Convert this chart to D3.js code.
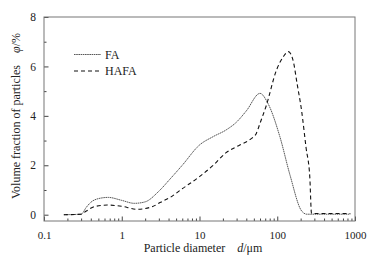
<!DOCTYPE html>
<html>
<head>
<meta charset="utf-8">
<script src="https://cdn.jsdelivr.net/npm/d3@7"></script>
<style>
  body { margin: 0; background: #fff; }
  text { font-family: "Liberation Serif", "Times New Roman", serif; fill: #222; }
</style>
</head>
<body>
<svg width="374" height="266"></svg>
<script>
// particle size distribution
var faDiameter = [0.18, 0.3, 0.35, 0.4, 0.5, 0.67, 1, 1.45, 2, 3, 4.2, 6, 10, 15, 22, 30, 40, 60, 76, 108, 146, 206, 240, 870];
var faVolume   = [0, 0.02, 0.3, 0.5, 0.65, 0.70, 0.58, 0.46, 0.52, 0.95, 1.45, 2.0, 2.82, 3.16, 3.43, 3.75, 4.2, 4.91, 4.5, 3.16, 1.6, 0.15, 0.02, 0.02];

var hafaDiameter = [0.18, 0.3, 0.35, 0.45, 0.65, 1, 1.56, 2.5, 3.1, 4.2, 6, 10, 15, 22, 33, 45, 54, 60, 72, 98, 120, 139, 161, 180, 205, 235, 262, 276, 870];
var hafaVolume   = [0, 0.02, 0.15, 0.33, 0.39, 0.34, 0.22, 0.33, 0.49, 0.70, 1.05, 1.54, 2.0, 2.51, 2.82, 3.05, 3.3, 3.7, 4.4, 5.86, 6.4, 6.6, 6.2, 5.3, 4.24, 2.7, 1.54, 0.05, 0.05];

var xMajor = [0.1, 1, 10, 100, 1000];
var xLabels = ["0.1", "1", "10", "100", "1000"];
var yMajor = [0, 2, 4, 6, 8];
var yMinor = [1, 3, 5, 7];

var svg = d3.select("svg"),
    margin = {top: 17, right: 19, bottom: 45, left: 44},
    width = +svg.attr("width") - margin.left - margin.right,
    height = +svg.attr("height") - margin.top - margin.bottom,
    g = svg.append("g").attr("transform", "translate(" + margin.left + "," + margin.top + ")");

var x = d3.scaleLog().domain([0.1, 1000]).range([0, width]);
var y = d3.scaleLinear().domain([-0.255, 8]).range([height, 0]);

// minor log ticks 2..9 in every decade
var xMinor = [];
[0.1, 1, 10, 100].forEach(function(dec) {
  for (var k = 2; k <= 9; k++) xMinor.push(dec * k);
});

// x axis, ticks pointing inward
g.append("g")
    .attr("class", "axis axis--x")
    .attr("transform", "translate(0," + height + ")")
    .call(d3.axisBottom(x).tickValues(xMinor).tickSize(-2.5).tickFormat(""))
    .call(function(a) { a.select(".domain").remove(); a.selectAll("line").attr("stroke", "#444"); });

g.append("g")
    .attr("class", "axis axis--x")
    .attr("transform", "translate(0," + height + ")")
    .call(d3.axisBottom(x).tickValues(xMajor).tickSize(-4.5).tickPadding(10)
      .tickFormat(function(d, i) { return xLabels[i]; }))
    .call(function(a) {
      a.select(".domain").remove();
      a.selectAll("line").attr("stroke", "#444");
      a.selectAll("text").attr("font-size", "11px").attr("font-family", "Liberation Serif").attr("fill", "#222");
    });

// y axis
g.append("g")
    .attr("class", "axis axis--y")
    .call(d3.axisLeft(y).tickValues(yMinor).tickSize(-2.5).tickFormat(""))
    .call(function(a) { a.select(".domain").remove(); a.selectAll("line").attr("stroke", "#444"); });

g.append("g")
    .attr("class", "axis axis--y")
    .call(d3.axisLeft(y).tickValues(yMajor).tickSize(-4.5).tickPadding(8).tickFormat(d3.format("d")))
    .call(function(a) {
      a.select(".domain").remove();
      a.selectAll("line").attr("stroke", "#444");
      a.selectAll("text").attr("font-size", "11.5px").attr("font-family", "Liberation Serif").attr("fill", "#222");
    });

// frame
g.append("rect")
    .attr("width", width)
    .attr("height", height)
    .attr("fill", "none")
    .attr("stroke", "#777")
    .attr("stroke-width", 1);

var line = d3.line()
    .x(function(d) { return x(d[0]); })
    .y(function(d) { return y(d[1]); })
    .curve(d3.curveMonotoneX);

var faData = faDiameter.map(function(d, i) { return [d, faVolume[i]]; });
var hafaData = hafaDiameter.map(function(d, i) { return [d, hafaVolume[i]]; });

g.append("path")
    .datum(faData)
    .attr("fill", "none")
    .attr("stroke", "#444")
    .attr("stroke-width", 0.9)
    .attr("stroke-dasharray", "1.6,0.6")
    .attr("d", line);

g.append("path")
    .datum(hafaData)
    .attr("fill", "none")
    .attr("stroke", "#111")
    .attr("stroke-width", 1.1)
    .attr("stroke-dasharray", "4,3")
    .attr("d", line);

// legend
var legend = [
  {name: "FA", dash: "1.6,0.6", w: 0.9, color: "#444", y: 54.5},
  {name: "HAFA", dash: "4,3", w: 1.1, color: "#111", y: 71}
];
legend.forEach(function(l) {
  svg.append("line")
      .attr("x1", 74).attr("x2", 101)
      .attr("y1", l.y).attr("y2", l.y)
      .attr("stroke", l.color)
      .attr("stroke-width", l.w)
      .attr("stroke-dasharray", l.dash);
  svg.append("text")
      .attr("x", 105).attr("y", l.y + 4)
      .attr("font-size", "12px")
      .text(l.name);
});

// axis titles
var xt = svg.append("text")
    .attr("x", 203).attr("y", 252)
    .attr("text-anchor", "middle")
    .attr("font-size", "12px");
xt.append("tspan").text("Particle diameter\u2003");
xt.append("tspan").attr("font-style", "italic").text("d");
xt.append("tspan").text("/\u03bcm");

var yt = svg.append("text")
    .attr("transform", "translate(20,116) rotate(-90)")
    .attr("text-anchor", "middle")
    .attr("font-size", "12px");
yt.append("tspan").text("Volume fraction of particles\u2003");
yt.append("tspan").attr("font-style", "italic").text("\u03c6");
yt.append("tspan").text("/%");
</script>
</body>
</html>
